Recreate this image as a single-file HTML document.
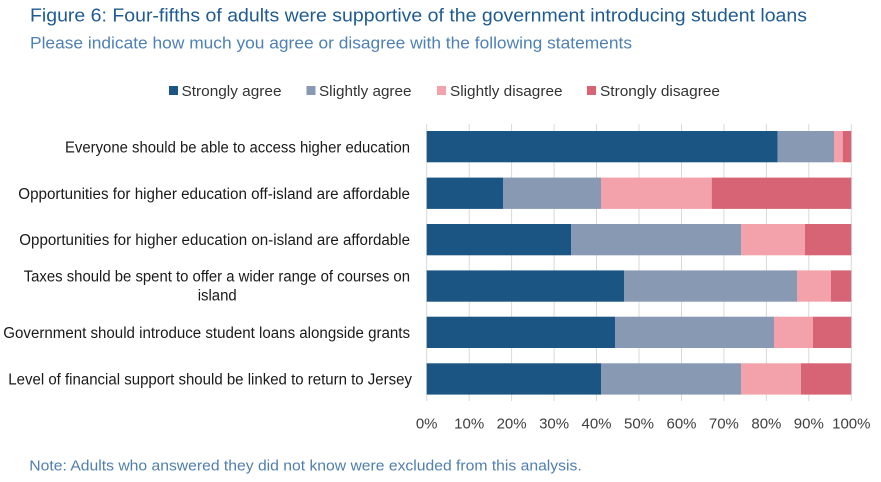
<!DOCTYPE html>
<html>
<head>
<meta charset="utf-8">
<style>
  html, body { margin:0; padding:0; background:#ffffff; }
  body { width:881px; height:482px; overflow:hidden; }
  svg { display:block; }
  text { font-family: "Liberation Sans", "DejaVu Sans", sans-serif; }
</style>
</head>
<body>
<svg width="881" height="482" viewBox="0 0 881 482" xmlns="http://www.w3.org/2000/svg">
  <rect width="881" height="482" fill="#ffffff"/>

  <!-- Title / subtitle -->
  <text x="30" y="21.7" font-size="18.5" fill="#1f5b93" textLength="777" lengthAdjust="spacingAndGlyphs">Figure 6: Four-fifths of adults were supportive of the government introducing student loans</text>
  <text x="30" y="48.5" font-size="17" fill="#4f81b4" textLength="602" lengthAdjust="spacingAndGlyphs">Please indicate how much you agree or disagree with the following statements</text>

  <!-- Legend -->
  <rect x="169" y="86" width="9" height="9" fill="#1b5583"/>
  <text x="181.5" y="96" font-size="15" fill="#333333" textLength="100" lengthAdjust="spacingAndGlyphs">Strongly agree</text>
  <rect x="306.5" y="86" width="9" height="9" fill="#8899b4"/>
  <text x="319" y="96" font-size="15" fill="#333333" textLength="92.5" lengthAdjust="spacingAndGlyphs">Slightly agree</text>
  <rect x="437" y="86" width="9" height="9" fill="#f3a2ab"/>
  <text x="450" y="96" font-size="15" fill="#333333" textLength="112.5" lengthAdjust="spacingAndGlyphs">Slightly disagree</text>
  <rect x="587" y="86" width="9" height="9" fill="#d66475"/>
  <text x="600" y="96" font-size="15" fill="#333333" textLength="120" lengthAdjust="spacingAndGlyphs">Strongly disagree</text>

  <!-- Gridlines -->
  <g stroke="#d9d9d9" stroke-width="1">
    <line x1="426.7" y1="124" x2="426.7" y2="401"/>
    <line x1="469.2" y1="124" x2="469.2" y2="401"/>
    <line x1="511.6" y1="124" x2="511.6" y2="401"/>
    <line x1="554.1" y1="124" x2="554.1" y2="401"/>
    <line x1="596.5" y1="124" x2="596.5" y2="401"/>
    <line x1="639.0" y1="124" x2="639.0" y2="401"/>
    <line x1="681.5" y1="124" x2="681.5" y2="401"/>
    <line x1="723.9" y1="124" x2="723.9" y2="401"/>
    <line x1="766.4" y1="124" x2="766.4" y2="401"/>
    <line x1="808.8" y1="124" x2="808.8" y2="401"/>
    <line x1="851.3" y1="124" x2="851.3" y2="401"/>
  </g>

  <!-- Bars -->
  <g>
    <!-- Row 1 -->
    <rect x="426.7" y="131" width="351" height="31.3" fill="#1b5583"/>
    <rect x="777.7" y="131" width="56.3" height="31.3" fill="#8899b4"/>
    <rect x="834" y="131" width="8.7" height="31.3" fill="#f3a2ab"/>
    <rect x="842.7" y="131" width="8.6" height="31.3" fill="#d66475"/>
    <!-- Row 2 -->
    <rect x="426.7" y="177.6" width="76.3" height="31.3" fill="#1b5583"/>
    <rect x="503" y="177.6" width="98" height="31.3" fill="#8899b4"/>
    <rect x="601" y="177.6" width="110.7" height="31.3" fill="#f3a2ab"/>
    <rect x="711.7" y="177.6" width="139.6" height="31.3" fill="#d66475"/>
    <!-- Row 3 -->
    <rect x="426.7" y="224" width="144.3" height="31.3" fill="#1b5583"/>
    <rect x="571" y="224" width="170" height="31.3" fill="#8899b4"/>
    <rect x="741" y="224" width="64" height="31.3" fill="#f3a2ab"/>
    <rect x="805" y="224" width="46.3" height="31.3" fill="#d66475"/>
    <!-- Row 4 -->
    <rect x="426.7" y="270.4" width="197.3" height="31.3" fill="#1b5583"/>
    <rect x="624" y="270.4" width="173" height="31.3" fill="#8899b4"/>
    <rect x="797" y="270.4" width="34" height="31.3" fill="#f3a2ab"/>
    <rect x="831" y="270.4" width="20.3" height="31.3" fill="#d66475"/>
    <!-- Row 5 -->
    <rect x="426.7" y="316.7" width="188.3" height="31.3" fill="#1b5583"/>
    <rect x="615" y="316.7" width="159" height="31.3" fill="#8899b4"/>
    <rect x="774" y="316.7" width="39" height="31.3" fill="#f3a2ab"/>
    <rect x="813" y="316.7" width="38.3" height="31.3" fill="#d66475"/>
    <!-- Row 6 -->
    <rect x="426.7" y="363.3" width="174.3" height="31.3" fill="#1b5583"/>
    <rect x="601" y="363.3" width="140" height="31.3" fill="#8899b4"/>
    <rect x="741" y="363.3" width="60" height="31.3" fill="#f3a2ab"/>
    <rect x="801" y="363.3" width="50.3" height="31.3" fill="#d66475"/>
  </g>

  <!-- Category labels -->
  <g font-size="15.5" fill="#1a1a1a">
    <text x="65" y="152.3" textLength="345" lengthAdjust="spacingAndGlyphs">Everyone should be able to access higher education</text>
    <text x="18.3" y="198.8" textLength="391.7" lengthAdjust="spacingAndGlyphs">Opportunities for higher education off-island are affordable</text>
    <text x="19.3" y="245.2" textLength="390.7" lengthAdjust="spacingAndGlyphs">Opportunities for higher education on-island are affordable</text>
    <text x="23.7" y="281.6" textLength="386.3" lengthAdjust="spacingAndGlyphs">Taxes should be spent to offer a wider range of courses on</text>
    <text x="197.7" y="300.6" textLength="39" lengthAdjust="spacingAndGlyphs">island</text>
    <text x="3.3" y="337.8" textLength="406.7" lengthAdjust="spacingAndGlyphs">Government should introduce student loans alongside grants</text>
    <text x="8.3" y="384.4" textLength="403.7" lengthAdjust="spacingAndGlyphs">Level of financial support should be linked to return to Jersey</text>
  </g>

  <!-- Axis tick labels -->
  <g font-size="15" fill="#404040" text-anchor="middle">
    <text x="426.7" y="428.3">0%</text>
    <text x="469.2" y="428.3">10%</text>
    <text x="511.6" y="428.3">20%</text>
    <text x="554.1" y="428.3">30%</text>
    <text x="596.5" y="428.3">40%</text>
    <text x="639.0" y="428.3">50%</text>
    <text x="681.5" y="428.3">60%</text>
    <text x="723.9" y="428.3">70%</text>
    <text x="766.4" y="428.3">80%</text>
    <text x="808.8" y="428.3">90%</text>
    <text x="851.3" y="428.3">100%</text>
  </g>

  <!-- Note -->
  <text x="29.3" y="470.7" font-size="15" fill="#4f7fae" textLength="552.4" lengthAdjust="spacingAndGlyphs">Note: Adults who answered they did not know were excluded from this analysis.</text>
</svg>
</body>
</html>
